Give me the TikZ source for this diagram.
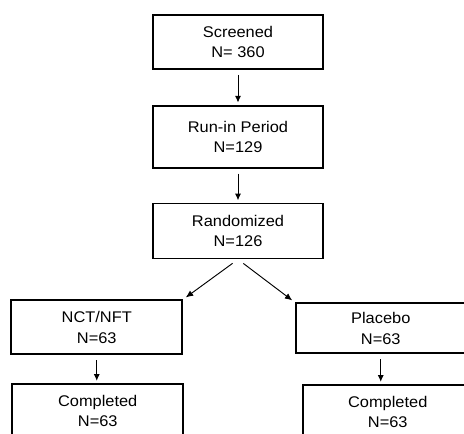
\documentclass[tikz,border=0pt]{standalone}
\usepackage{fontspec}
\setmainfont{Liberation Sans}[FakeStretch=1.06]
\usetikzlibrary{positioning,arrows.meta,calc}
\tikzset{
  box/.style={draw, line width=1.5pt, align=center, minimum width=5.1cm, minimum height=1.62cm, inner sep=0pt, font=\fontsize{13.2pt}{17.5pt}\selectfont},
  arrow/.style={-{Latex[length=2mm,width=1.8mm]}, line width=0.8pt, shorten <=0.15cm, shorten >=0.07cm},
  diag/.style={-{Latex[length=2.2mm,width=1.9mm]}, line width=0.8pt, shorten <=0.2cm, shorten >=0.1cm}
}
\begin{document}
\begin{tikzpicture}
        \useasboundingbox (0,0) rectangle (13.92,-12.99);
        \clip (0,0) rectangle (13.92,-12.99);
        \node[box] (scr) at (7.14,-1.26) {Screened\\N= 360};
        \node[box, minimum height=1.86cm, below=1.05cm of scr] (runin) {Run-in Period\\N=129};
        \node[box, minimum height=1.65cm, below=1.02cm of runin] (rand) {Randomized\\N=126};
        \node[box, minimum width=5.13cm, below left=1.2cm and -0.93cm of rand] (nct) {NCT/NFT\\N=63};
        \node[box, minimum height=1.5cm, below right=1.29cm and -0.87cm of rand] (plac) {Placebo\\N=63};
        \node[box, minimum width=5.13cm, below=0.84cm of nct, xshift=0.03cm] (compl) {Completed\\N=63};
        \node[box, below=0.9cm of plac, xshift=0.21cm] (compr) {Completed\\N=63};
        \draw[arrow] (scr) -- (runin);
        \draw[arrow] (runin) -- (rand);
        \draw[diag] (rand.south) -- (nct.north east);
        \draw[diag] (rand.south) -- (plac.north west);
        \draw[arrow] (nct) -- (nct |- compl.north);
        \draw[arrow] (plac) -- (plac |- compr.north);
      \end{tikzpicture}
\end{document}
